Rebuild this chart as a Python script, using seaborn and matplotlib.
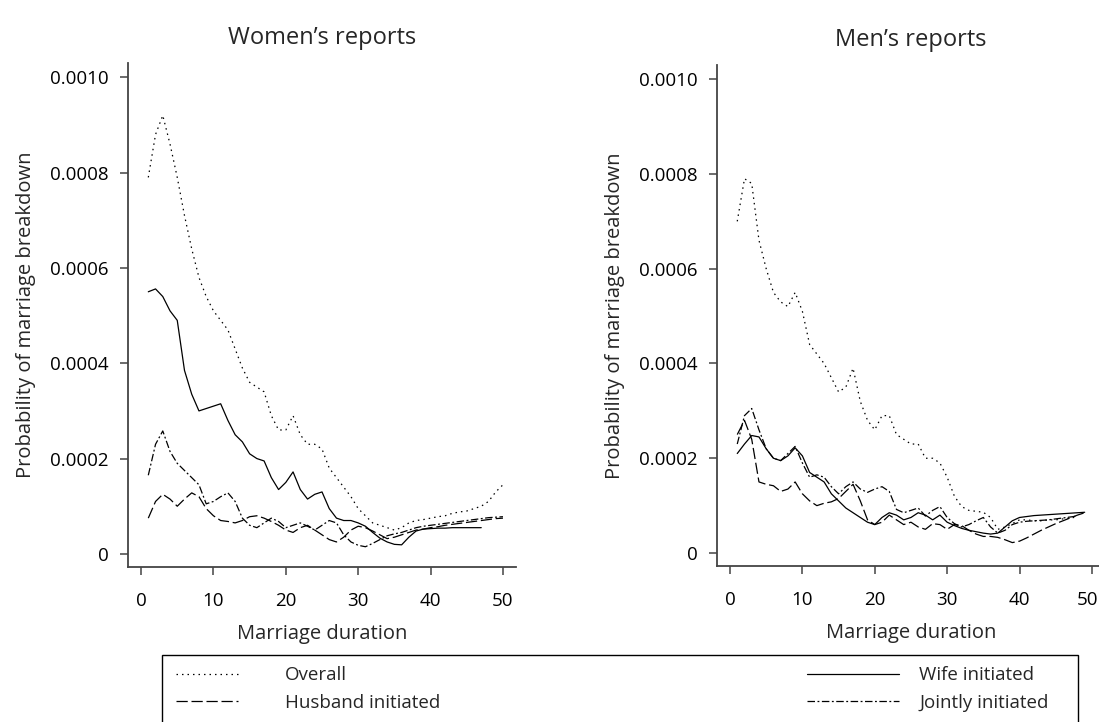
import numpy as np
import pandas as pd
import matplotlib.pyplot as plt
import matplotlib.transforms as mtransforms
import seaborn as sns
from matplotlib.lines import Line2D
from matplotlib.patches import Rectangle

sns.set_style('ticks')
plt.rcParams['font.family'] = ['Open Sans', 'DejaVu Sans']

# Women's reports (durations 1..50, wife line stops at 47)
women_overall = [0.00079, 0.00088, 0.00092, 0.00086, 0.00079, 0.00071, 0.00064, 0.00058, 0.00054, 0.00051,
                 0.00049, 0.00047, 0.00043, 0.00039, 0.00036, 0.00035, 0.00034, 0.00029, 0.00026, 0.00026,
                 0.00029, 0.00025, 0.00023, 0.00023, 0.00022, 0.00018, 0.00016, 0.00014, 0.00012, 0.000095,
                 0.00008, 0.000065, 0.00006, 0.000055, 0.00005, 0.000055, 0.000065, 0.00007, 0.000072, 0.000075,
                 0.000078, 0.00008, 0.000085, 0.000088, 0.00009, 0.000095, 0.0001, 0.00011, 0.00013, 0.000145]
women_wife = [0.000550, 0.000556, 0.000540, 0.000510, 0.000490, 0.000385, 0.000335, 0.000300, 0.000305, 0.000310,
              0.000315, 0.000280, 0.000250, 0.000235, 0.000210, 0.000200, 0.000195, 0.000160, 0.000135, 0.000150,
              0.000172, 0.000135, 0.000115, 0.000125, 0.000130, 0.000095, 0.000075, 0.000070, 0.000070, 0.000065,
              0.000058, 0.000045, 0.000033, 0.000025, 0.000020, 0.000019, 0.000035, 0.000048, 0.000052, 0.000053,
              0.000054, 0.000054, 0.000055, 0.000055, 0.000055, 0.000055, 0.000055]
women_husband = [0.000075, 0.000110, 0.000125, 0.000115, 0.000100, 0.000115, 0.000128, 0.000120, 0.000095, 0.000080,
                 0.000070, 0.000068, 0.000065, 0.000070, 0.000078, 0.000080, 0.000075, 0.000068, 0.000060, 0.000050,
                 0.000045, 0.000055, 0.000060, 0.000050, 0.000040, 0.000030, 0.000025, 0.000035, 0.000050, 0.000058,
                 0.000055, 0.000048, 0.000040, 0.000032, 0.000035, 0.000040, 0.000045, 0.000050, 0.000052, 0.000055,
                 0.000057, 0.000060, 0.000062, 0.000064, 0.000066, 0.000068, 0.000070, 0.000072, 0.000074, 0.000075]
women_jointly = [0.000165, 0.000230, 0.000258, 0.000215, 0.000190, 0.000175, 0.000160, 0.000145, 0.000105, 0.000110,
                 0.000120, 0.000128, 0.000110, 0.000075, 0.000060, 0.000055, 0.000065, 0.000075, 0.000068, 0.000055,
                 0.000060, 0.000065, 0.000058, 0.000050, 0.000060, 0.000070, 0.000065, 0.000040, 0.000025, 0.000018,
                 0.000015, 0.000022, 0.000030, 0.000038, 0.000042, 0.000045, 0.000050, 0.000055, 0.000058, 0.000060,
                 0.000062, 0.000064, 0.000066, 0.000068, 0.000070, 0.000072, 0.000074, 0.000076, 0.000077, 0.000078]

# Men's reports
men_overall = [0.00070, 0.00079, 0.00078, 0.00066, 0.00060, 0.00055, 0.00053, 0.00052, 0.00055, 0.00051,
               0.00044, 0.00042, 0.00040, 0.00037, 0.00034, 0.00035, 0.00039, 0.00032, 0.00028, 0.00026,
               0.00029, 0.00029, 0.00025, 0.00024, 0.00023, 0.00023, 0.00020, 0.00020, 0.00019, 0.00016,
               0.00012, 0.000098, 0.00009, 0.000088, 0.000086, 0.000075, 0.00005, 0.000055, 0.000062, 0.00007,
               0.00007, 0.000068, 0.000068, 0.00007, 0.00007, 0.000072, 0.000074, 0.000076]
men_wife = [0.000210, 0.000230, 0.000248, 0.000245, 0.000220, 0.000200, 0.000195, 0.000205, 0.000222, 0.000205,
            0.000170, 0.000160, 0.000150, 0.000125, 0.000110, 0.000095, 0.000085, 0.000075, 0.000065, 0.000060,
            0.000075, 0.000085, 0.000080, 0.000070, 0.000075, 0.000085, 0.000080, 0.000070, 0.000080, 0.000065,
            0.000058, 0.000052, 0.000048, 0.000045, 0.000042, 0.000040, 0.000042, 0.000055, 0.000068, 0.000075,
            0.000077, 0.000079, 0.000080, 0.000081, 0.000082, 0.000083, 0.000084, 0.000085, 0.000086]
men_husband = [0.000250, 0.000280, 0.000240, 0.000150, 0.000145, 0.000142, 0.000130, 0.000135, 0.000150, 0.000125,
               0.000110, 0.000100, 0.000105, 0.000108, 0.000115, 0.000130, 0.000145, 0.000110, 0.000070, 0.000060,
               0.000065, 0.000080, 0.000070, 0.000060, 0.000065, 0.000055, 0.000050, 0.000062, 0.000060, 0.000050,
               0.000060, 0.000058, 0.000048, 0.000040, 0.000035, 0.000035, 0.000033, 0.000028, 0.000022, 0.000025,
               0.000032, 0.000040, 0.000048, 0.000055, 0.000062, 0.000068, 0.000074, 0.000080, 0.000085]
men_jointly = [0.000230, 0.000290, 0.000305, 0.000260, 0.000220, 0.000200, 0.000195, 0.000210, 0.000225, 0.000190,
               0.000160, 0.000165, 0.000160, 0.000140, 0.000125, 0.000140, 0.000150, 0.000135, 0.000128, 0.000135,
               0.000140, 0.000130, 0.000092, 0.000085, 0.000090, 0.000095, 0.000078, 0.000090, 0.000098, 0.000075,
               0.000062, 0.000055, 0.000060, 0.000068, 0.000075, 0.000055, 0.000042, 0.000048, 0.000060, 0.000065,
               0.000067, 0.000068, 0.000069, 0.000070, 0.000072, 0.000074, 0.000076, 0.000078]

series_names = ['Overall', 'Husband initiated', 'Wife initiated', 'Jointly initiated']
y_ticks = [0, 0.0002, 0.0004, 0.0006, 0.0008, 0.0010]
y_tick_labels = ['0', '0.0002', '0.0004', '0.0006', '0.0008', '0.0010']
x_ticks = [0, 10, 20, 30, 40, 50]

line_dashes = {'Overall': (1.2, 3.2),
               'Husband initiated': (9, 3),
               'Wife initiated': '',
               'Jointly initiated': (6, 2, 1.5, 2)}


def to_long(panel):
    rows = []
    for name, vals in panel.items():
        for i, v in enumerate(vals):
            rows.append({'duration': i + 1, 'prob': v, 'series': name})
    return pd.DataFrame(rows)


panels = [
    ("Women\u2019s reports", {'Overall': women_overall, 'Husband initiated': women_husband,
                              'Wife initiated': women_wife, 'Jointly initiated': women_jointly}),
    ("Men\u2019s reports", {'Overall': men_overall, 'Husband initiated': men_husband,
                            'Wife initiated': men_wife, 'Jointly initiated': men_jointly}),
]

fig = plt.figure(figsize=(10.99, 7.22), dpi=100)
ax_l = fig.add_axes([0.1165, 0.2147, 0.353, 0.698])
ax_r = fig.add_axes([0.6524, 0.2160, 0.353, 0.694])

spine_col = '#444444'
for ax, (title, panel) in zip([ax_l, ax_r], panels):
    df = to_long(panel)
    sns.lineplot(data=df, x='duration', y='prob', hue='series', style='series',
                 hue_order=series_names, style_order=series_names,
                 palette=['black'] * 4, dashes=line_dashes, linewidth=0.9,
                 legend=False, ax=ax)
    ax.set_xlim(-1.8, 51.8)
    ax.set_ylim(-0.0000275, 0.00103)
    ax.set_xticks(x_ticks)
    ax.set_yticks(y_ticks)
    ax.set_yticklabels(y_tick_labels)
    ax.set_title(title, fontsize=17, pad=14)
    ax.set_xlabel('Marriage duration', fontsize=14.5, labelpad=10)
    ax.set_ylabel('Probability of marriage breakdown', fontsize=14.5, labelpad=10)
    sns.despine(ax=ax)
    for s in ['left', 'bottom']:
        ax.spines[s].set_color(spine_col)
        ax.spines[s].set_linewidth(1.3)
    ax.tick_params(axis='both', colors=spine_col, labelcolor='black', labelsize=13.5,
                   length=6, width=1.1)
    ax.tick_params(axis='x', pad=12)
    ax.tick_params(axis='y', pad=8)

# the last tick label of the right panel sits at the figure edge: nudge it inward
last = ax_r.get_xticklabels()[-1]
last.set_transform(last.get_transform() + mtransforms.ScaledTranslation(-4 / 100, 0, fig.dpi_scale_trans))

# Legend in a framed box along the bottom
def handle(name):
    d = line_dashes[name]
    if d == '':
        return Line2D([], [], color='black', lw=0.9)
    return Line2D([], [], color='black', lw=0.9, dashes=d)

fig.patches.append(Rectangle((0.1474, -0.01), 0.8335, 0.1028, transform=fig.transFigure,
                             fill=False, edgecolor='black', linewidth=1.0))
leg_kw = dict(loc='upper left', frameon=False, fontsize=13.5, labelspacing=0.5,
              borderpad=0, borderaxespad=0)
fig.legend([handle('Overall'), handle('Husband initiated')], ['Overall', 'Husband initiated'],
           bbox_to_anchor=(0.160, 0.077), handlelength=3.3, handletextpad=2.5, **leg_kw)
fig.legend([handle('Wife initiated'), handle('Jointly initiated')], ['Wife initiated', 'Jointly initiated'],
           bbox_to_anchor=(0.734, 0.077), handlelength=4.9, handletextpad=1.1, **leg_kw)

plt.savefig('out.png', dpi=100)
